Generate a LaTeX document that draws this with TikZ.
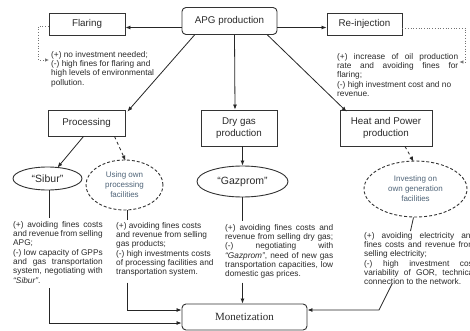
\documentclass[tikz,border=0pt]{standalone}
\usepackage{fontspec}
\setmainfont{Liberation Sans}
\newfontfamily\serifm{Liberation Serif}
\usetikzlibrary{shapes.geometric,arrows.meta,calc}
\definecolor{bord}{HTML}{333333}
\definecolor{txt}{HTML}{2a2a2a}
\definecolor{slate}{HTML}{4F6478}
\newcommand\jl[2]{\makebox[#1][s]{#2}}
\begin{document}
\begin{tikzpicture}[x=1pt,y=-1pt,
  box/.style={draw=bord, line width=0.9pt, font=\fontsize{9.8}{11.5}\selectfont, align=center, inner sep=0pt, text=txt},
  rbox/.style={box, rounded corners=4pt},
  oval/.style={ellipse, draw=bord, line width=0.9pt, inner sep=0pt, font=\fontsize{10.5}{12}\selectfont, text=txt},
  doval/.style={oval, dash pattern=on 3pt off 2pt, font=\fontsize{8}{10}\selectfont, text=slate, align=center},
  desc/.style={inner sep=0pt, anchor=north west, align=left, font=\fontsize{8.3}{9.3}\selectfont, text=txt},
  arr/.style={-{Latex[length=5pt,width=4pt]}, line width=0.8pt, draw=black!85},
  ln/.style={line width=0.8pt, draw=black!85},
  dotc/.style={dotted, line width=0.7pt, draw=black!55, -{Latex[length=4pt,width=3.5pt]}}
]
\useasboundingbox (0,0) rectangle (470,331);
\clip (0,0) rectangle (470,331);
\fill[white] (0,0) rectangle (470,331);

% top row
\node[rbox, minimum width=95pt, minimum height=27pt] (apg) at (229.5,21) {APG production};
\node[box, minimum width=76pt, minimum height=22pt] (flaring) at (87,24) {Flaring};
\node[box, minimum width=75pt, minimum height=22pt] (reinj) at (364.5,24) {Re-injection};

% second row
\node[box, minimum width=77pt, minimum height=26pt] (proc) at (86.5,123) {Processing};
\node[box, minimum width=76pt, minimum height=36pt] (dry) at (239,128) {Dry gas\\production};
\node[box, minimum width=92pt, minimum height=36pt] (heat) at (386,128) {Heat and Power\\production};

% ellipses
\node[oval, minimum width=69pt, minimum height=23pt] (sibur) at (47.5,178.5) {“Sibur”};
\node[doval, minimum width=77pt, minimum height=50pt] (ownproc) at (124.5,185) {Using own\\processing\\facilities};
\node[oval, minimum width=91pt, minimum height=31pt] (gazprom) at (242.5,181.5) {“Gazprom”};
\node[doval, minimum width=103pt, minimum height=56pt] (invest) at (415.5,189) {Investing on\\own generation\\facilities};

% monetization
\node[rbox, minimum width=125pt, minimum height=26pt, font=\serifm\fontsize{11}{13}\selectfont] (monet) at (244.5,317) {Monetization};

% description texts
\node[desc] (fltxt) at (51,51) {(+) no investment needed;\\(-) high fines for flaring and\\high levels of environmental\\pollution.};
\node[desc] (retxt) at (337,53) {\jl{121pt}{(+) increase of oil production}\\\jl{121pt}{rate and avoiding fines for}\\flaring;\\(-) high investment cost and no\\revenue.};
\node[desc] (sibtxt) at (13,221) {\jl{89.5pt}{(+) avoiding fines costs}\\\jl{89.5pt}{and revenue from selling}\\APG;\\\jl{89.5pt}{(-) low capacity of GPPs}\\\jl{89.5pt}{and gas transportation}\\\jl{89.5pt}{system, negotiating with}\\\textit{“Sibur”}.};
\node[desc] (owntxt) at (116,222) {(+) avoiding fines costs\\and revenue from selling\\gas products;\\(-) high investments costs\\of processing facilities and\\transportation system.};
\node[desc] (gaztxt) at (225,224) {\jl{108pt}{(+) avoiding fines costs and}\\\jl{108pt}{revenue from selling dry gas;}\\\jl{108pt}{(-) negotiating with}\\\jl{108pt}{\textit{“Gazprom”}, need of new gas}\\\jl{108pt}{transportation capacities, low}\\domestic gas prices.};
\node[desc] (invtxt) at (364,232) {\jl{111pt}{(+) avoiding electricity and}\\\jl{111pt}{fines costs and revenue from}\\selling electricity;\\\jl{111pt}{(-) high investment cost}\\\jl{111pt}{variability of GOR, technical}\\connection to the network.};

% top arrows
\draw[arr] ([yshift=-6.5pt]apg.west) -- ([yshift=-3.5pt]flaring.east);
\draw[arr] ([yshift=-6.5pt]apg.east) -- ([yshift=-3.5pt]reinj.east -| reinj.west);
\draw[arr] ([xshift=13pt]apg.south west) -- ([xshift=2pt,yshift=-2pt]proc.north east);
\draw[arr] ([xshift=5pt]apg.south) -- ([xshift=-4pt]dry.north);
\draw[arr] ([xshift=-10pt]apg.south east) -- ([xshift=7pt,yshift=-2pt]heat.north west);

% dotted side connectors
\draw[dotc] ([yshift=-2pt]flaring.west) -- ++(-10,0) |- ($(fltxt.north west)+(-2,9)$);
\draw[dotc] ([yshift=-4pt]reinj.east) -- ++(63,0) |- ($(retxt.north east)+(1,9)$);

% second row to ellipses
\draw[arr] ([xshift=-3pt]proc.south) -- ([xshift=10pt,yshift=-1pt]sibur.north);
\draw[arr, dashed] ([xshift=28pt]proc.south) -- ([xshift=1pt,yshift=-1pt]ownproc.north);
\draw[arr] (dry.south -| gazprom.north) -- (gazprom.north);
\draw[arr, dashed] ([xshift=19pt]heat.south) -- ([xshift=-2pt,yshift=-1pt]invest.north);

% ellipses to texts
\draw[ln] ([xshift=1.5pt]sibur.south) -- ([xshift=1.5pt,yshift=3pt]sibur.south |- sibtxt.north);
\draw[ln] ([xshift=3pt]ownproc.south) -- ([xshift=3pt,yshift=2pt]ownproc.south |- owntxt.north);
\draw[ln] (gazprom.south) -- ([yshift=3pt]gazprom.south |- gaztxt.north);
\draw[ln] ([xshift=-2pt]invest.south) -- ([xshift=-5pt,yshift=1pt]invest.south |- invtxt.north);

% texts to monetization
\coordinate (mw1) at ([yshift=-6pt]monet.west);
\coordinate (mw2) at ([yshift=7pt]monet.west);
\coordinate (me) at ([yshift=7pt]monet.east);
\draw[arr] ($(sibur.south |- sibtxt.south)+(1.5,5)$) |- (mw1);
\draw[arr] ($(ownproc.south |- owntxt.south)+(3,6)$) |- (mw2);
\draw[arr] ($(gazprom.south |- gaztxt.south)+(0,4)$) -- (gazprom.south |- monet.north);
\coordinate (i1) at ($(invtxt.south west)+(28,-1)$);
\draw[arr] (i1) -- ($(i1 |- me)+(-13,0)$) -- (me);
\end{tikzpicture}
\end{document}
